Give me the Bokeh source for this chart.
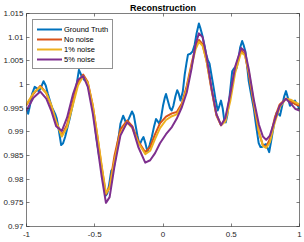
from bokeh.plotting import figure
from bokeh.models import Range1d, FixedTicker, LinearAxis, Legend, LegendItem, CustomJSTickFormatter
from bokeh.embed import file_html
from bokeh.resources import INLINE

# ---- data ----
gt_x = [-1.0, -0.988, -0.975, -0.959, -0.940, -0.924, -0.911, -0.895, -0.875, -0.859,
        -0.843, -0.828, -0.814, -0.790, -0.778, -0.764, -0.746, -0.732, -0.717, -0.699,
        -0.681, -0.663, -0.645, -0.630, -0.616, -0.605, -0.596, -0.578, -0.560, -0.543,
        -0.524, -0.507, -0.489, -0.469, -0.457, -0.438, -0.420, -0.408, -0.396, -0.379,
        -0.360, -0.348, -0.336, -0.322, -0.312, -0.292, -0.279, -0.268, -0.250, -0.227,
        -0.214, -0.203, -0.188, -0.172, -0.157, -0.143, -0.128, -0.114, -0.098, -0.082,
        -0.065, -0.051, -0.038, -0.027, -0.014, 0.000, 0.014, 0.022, 0.036, 0.051,
        0.063, 0.076, 0.091, 0.104, 0.116, 0.128, 0.145, 0.159, 0.172, 0.183,
        0.201, 0.217, 0.232, 0.246, 0.263, 0.275, 0.288, 0.302, 0.317, 0.328,
        0.341, 0.355, 0.370, 0.384, 0.401, 0.413, 0.425, 0.437, 0.449, 0.460,
        0.471, 0.486, 0.507, 0.522, 0.538, 0.551, 0.565, 0.580, 0.592, 0.604,
        0.616, 0.628, 0.645, 0.664, 0.681, 0.701, 0.714, 0.725, 0.739, 0.754,
        0.766, 0.778, 0.792, 0.809, 0.822, 0.833, 0.846, 0.857, 0.873, 0.888,
        0.901, 0.915, 0.930, 0.946, 0.966, 0.982, 1.000]
gt_y = [0.9950, 0.9938, 0.9955, 0.9980, 0.9995, 0.9992, 0.9985, 0.9993, 1.0007, 0.9998,
        0.9980, 0.9965, 0.9952, 0.9938, 0.9928, 0.9905, 0.9872, 0.9876, 0.9889, 0.9910,
        0.9931, 0.9955, 0.9980, 1.0005, 1.0031, 1.0024, 1.0017, 1.0010, 1.0007, 0.9990,
        0.9962, 0.9935, 0.9890, 0.9851, 0.9837, 0.9800, 0.9765, 0.9770, 0.9786, 0.9818,
        0.9824, 0.9845, 0.9869, 0.9895, 0.9917, 0.9934, 0.9925, 0.9917, 0.9928, 0.9943,
        0.9935, 0.9917, 0.9893, 0.9872, 0.9882, 0.9889, 0.9875, 0.9858, 0.9872, 0.9889,
        0.9912, 0.9927, 0.9922, 0.9917, 0.9930, 0.9955, 0.9973, 0.9980, 0.9965, 0.9950,
        0.9945, 0.9955, 0.9975, 0.9988, 0.9980, 0.9966, 0.9985, 1.0021, 1.0045, 1.0063,
        1.0065, 1.0070, 1.0084, 1.0108, 1.0129, 1.0118, 1.0104, 1.0085, 1.0063, 1.0052,
        1.0044, 1.0020, 0.9995, 0.9970, 0.9945, 0.9955, 0.9966, 0.9950, 0.9924, 0.9920,
        0.9935, 0.9970, 1.0028, 1.0035, 1.0034, 1.0050, 1.0078, 1.0092, 1.0082, 1.0069,
        1.0040, 1.0007, 0.9980, 0.9951, 0.9915, 0.9876, 0.9868, 0.9868, 0.9872, 0.9874,
        0.9866, 0.9857, 0.9880, 0.9909, 0.9930, 0.9941, 0.9938, 0.9934, 0.9955, 0.9975,
        0.9986, 0.9972, 0.9955, 0.9960, 0.9966, 0.9958, 0.9949]

rec_x = [-1.0, -0.949, -0.899, -0.855, -0.819, -0.783, -0.741, -0.703, -0.659, -0.623,
         -0.585, -0.551, -0.514, -0.478, -0.449, -0.418, -0.391, -0.355, -0.312, -0.263,
         -0.225, -0.181, -0.130, -0.094, -0.058, -0.022, 0.022, 0.065, 0.101, 0.138,
         0.174, 0.210, 0.239, 0.263, 0.290, 0.319, 0.355, 0.391, 0.425, 0.457,
         0.493, 0.529, 0.572, 0.601, 0.630, 0.667, 0.703, 0.732, 0.756, 0.783,
         0.819, 0.855, 0.901, 0.935, 0.971, 1.0]
no_noise_y = [0.9957, 0.9980, 0.9997, 0.9982, 0.9955, 0.9920, 0.9893, 0.9915, 0.9965, 1.0005,
              1.0021, 1.0005, 0.9955, 0.9885, 0.9825, 0.9768, 0.9785, 0.9850, 0.9905, 0.9924,
              0.9912, 0.9880, 0.9857, 0.9868, 0.9895, 0.9918, 0.9932, 0.9939, 0.9942, 0.9960,
              0.9997, 1.0045, 1.0080, 1.0094, 1.0085, 1.0050, 0.9990, 0.9935, 0.9914, 0.9925,
              0.9975, 1.0035, 1.0073, 1.0062, 1.0020, 0.9955, 0.9898, 0.9872, 0.9868, 0.9885,
              0.9930, 0.9958, 0.9970, 0.9965, 0.9958, 0.9955]
noise1_y = [0.9958, 0.9982, 0.9995, 0.9982, 0.9957, 0.9922, 0.9890, 0.9910, 0.9958, 0.9998,
            1.0018, 1.0003, 0.9955, 0.9887, 0.9828, 0.9770, 0.9782, 0.9840, 0.9897, 0.9920,
            0.9908, 0.9877, 0.9853, 0.9860, 0.9885, 0.9908, 0.9925, 0.9933, 0.9937, 0.9955,
            0.9992, 1.0040, 1.0075, 1.0090, 1.0082, 1.0050, 0.9992, 0.9937, 0.9914, 0.9922,
            0.9965, 1.0025, 1.0068, 1.0062, 1.0025, 0.9960, 0.9900, 0.9870, 0.9866, 0.9878,
            0.9920, 0.9952, 0.9970, 0.9968, 0.9962, 0.9958]
noise5_y = [0.9945, 0.9972, 0.9985, 0.9970, 0.9945, 0.9912, 0.9902, 0.9930, 0.9980, 1.0010,
            1.0018, 0.9995, 0.9938, 0.9865, 0.9805, 0.9750, 0.9762, 0.9828, 0.9892, 0.9920,
            0.9910, 0.9868, 0.9835, 0.9840, 0.9855, 0.9876, 0.9895, 0.9910, 0.9928, 0.9952,
            0.9983, 1.0035, 1.0085, 1.0108, 1.0100, 1.0060, 0.9993, 0.9938, 0.9914, 0.9930,
            0.9980, 1.0038, 1.0077, 1.0070, 1.0030, 0.9965, 0.9915, 0.9890, 0.9883, 0.9892,
            0.9925, 0.9955, 0.9970, 0.9960, 0.9948, 0.9945]

series_names = ["Ground Truth", "No noise", "1% noise", "5% noise"]
series_colors = ["#0072BD", "#D95319", "#EDB120", "#7E2F8E"]

x_ticks = [-1, -0.5, 0, 0.5, 1]
x_tick_labels = ["-1", "-0.5", "0", "0.5", "1"]
y_ticks = [0.97, 0.975, 0.98, 0.985, 0.99, 0.995, 1.0, 1.005, 1.01, 1.015]
y_tick_labels = ["0.97", "0.975", "0.98", "0.985", "0.99", "0.995", "1", "1.005", "1.01", "1.015"]

FONT = "Liberation Sans"
AX = "#262626"

p = figure(frame_width=273, frame_height=213,
           x_range=Range1d(-1, 1), y_range=Range1d(0.97, 1.015),
           output_backend="svg", toolbar_location=None,
           title="Reconstruction",
           min_border_left=0, min_border_right=3, min_border_top=0, min_border_bottom=0)
p.background_fill_color = "white"
p.border_fill_color = "white"
p.outline_line_color = None
p.xgrid.visible = False
p.ygrid.visible = False

p.title.text_font = FONT
p.title.text_font_size = "9px"
p.title.text_font_style = "bold"
p.title.text_color = "black"
p.title.align = "center"
p.title.standoff = 1

def style_axis(ax, ticks, labels, show_labels=True, standoff=3):
    ax.ticker = FixedTicker(ticks=ticks, minor_ticks=[])
    ax.axis_line_color = AX
    ax.axis_line_width = 0.6
    ax.major_tick_line_color = AX
    ax.major_tick_line_width = 0.6
    ax.major_tick_in = 3
    ax.major_tick_out = 0
    ax.minor_tick_in = 0
    ax.minor_tick_out = 0
    ax.major_label_text_font = FONT
    ax.major_label_text_color = AX
    ax.major_label_text_font_size = "8px"
    if show_labels:
        ax.major_label_overrides = {t: l for t, l in zip(ticks, labels)}
        ax.major_label_standoff = standoff
    else:
        ax.formatter = CustomJSTickFormatter(code="return '';")
        ax.major_label_standoff = 0

style_axis(p.xaxis[0], x_ticks, x_tick_labels, standoff=5)
style_axis(p.yaxis[0], y_ticks, y_tick_labels, standoff=3)
top = LinearAxis()
style_axis(top, x_ticks, x_tick_labels, show_labels=False)
right = LinearAxis()
style_axis(right, y_ticks, y_tick_labels, show_labels=False)
p.add_layout(top, "above")
p.add_layout(right, "right")

renderers = []
for xs, ys, c in [(gt_x, gt_y, series_colors[0]), (rec_x, no_noise_y, series_colors[1]),
                  (rec_x, noise1_y, series_colors[2]), (rec_x, noise5_y, series_colors[3])]:
    r = p.line(xs, ys, line_color=c, line_width=2, line_join="round", line_cap="round")
    renderers.append(r)

legend = Legend(items=[LegendItem(label=n, renderers=[r]) for n, r in zip(series_names, renderers)],
                location="top_left",
                label_text_font=FONT, label_text_font_size="7.5px", label_text_color="black",
                glyph_width=25, glyph_height=10, label_height=10, spacing=0,
                padding=4, margin=6, label_standoff=2,
                border_line_color=AX, border_line_width=0.6,
                background_fill_color="white", background_fill_alpha=1)
p.add_layout(legend)

open("out.html", "w").write(file_html(p, INLINE))
